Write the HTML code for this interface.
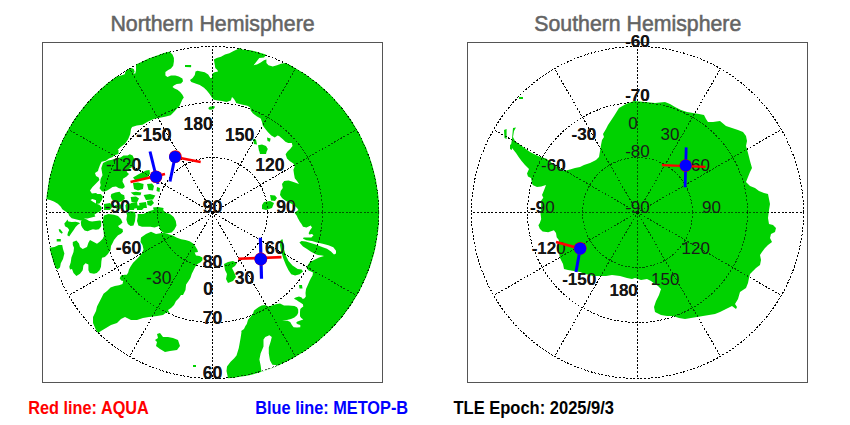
<!DOCTYPE html>
<html><head><meta charset="utf-8"><style>
html,body{margin:0;padding:0;background:#fff;}
body{width:850px;height:425px;overflow:hidden;}
svg{display:block;}
.t{font-family:"Liberation Sans",sans-serif;font-size:22.6px;fill:#646464;stroke:#646464;stroke-width:0.55px;}
.lb{font-family:"Liberation Sans",sans-serif;font-weight:bold;fill:#000;}
.lr{font-family:"Liberation Sans",sans-serif;fill:#1a1a1a;}
.fn{font-size:18.5px;}
.fs{font-size:17px;}
.leg{font-family:"Liberation Sans",sans-serif;font-size:17.8px;font-weight:bold;}
.g{fill:none;stroke:#000;stroke-width:1;stroke-dasharray:2 1.6;shape-rendering:crispEdges;}
.g2{fill:none;stroke:rgba(0,0,0,0.6);stroke-width:1;stroke-dasharray:2 1.6;shape-rendering:crispEdges;}
</style></head><body>
<svg width="850" height="425" viewBox="0 0 850 425">
<defs>
<clipPath id="cn"><circle cx="212.5" cy="212.5" r="166.7"/></clipPath>
<clipPath id="cs"><circle cx="637.5" cy="212.5" r="166.7"/></clipPath>
</defs>
<rect width="850" height="425" fill="#fff"/>
<text class="t" transform="translate(212.5,31) scale(0.946,1)" text-anchor="middle">Northern Hemisphere</text>
<text class="t" transform="translate(637.8,31) scale(0.942,1)" text-anchor="middle">Southern Hemisphere</text>
<rect x="42.5" y="42.5" width="340" height="340" fill="none" stroke="#555" stroke-width="1"/>
<rect x="467.5" y="42.5" width="340" height="340" fill="none" stroke="#555" stroke-width="1"/>
<g class="g">
<circle cx="212.5" cy="212.5" r="55" />
<circle cx="212.5" cy="212.5" r="110" />
<circle cx="212.5" cy="212.5" r="166" />
<line x1="212.5" y1="212.5" x2="212.50" y2="378.50" />
<line x1="212.5" y1="212.5" x2="295.50" y2="356.26" />
<line x1="212.5" y1="212.5" x2="356.26" y2="295.50" />
<line x1="212.5" y1="212.5" x2="378.50" y2="212.50" />
<line x1="212.5" y1="212.5" x2="356.26" y2="129.50" />
<line x1="212.5" y1="212.5" x2="295.50" y2="68.74" />
<line x1="212.5" y1="212.5" x2="212.50" y2="46.50" />
<line x1="212.5" y1="212.5" x2="129.50" y2="68.74" />
<line x1="212.5" y1="212.5" x2="68.74" y2="129.50" />
<line x1="212.5" y1="212.5" x2="46.50" y2="212.50" />
<line x1="212.5" y1="212.5" x2="68.74" y2="295.50" />
<line x1="212.5" y1="212.5" x2="129.50" y2="356.26" />
<circle cx="637.5" cy="212.5" r="55" />
<circle cx="637.5" cy="212.5" r="110" />
<circle cx="637.5" cy="212.5" r="166" />
<line x1="637.5" y1="212.5" x2="637.50" y2="46.50" />
<line x1="637.5" y1="212.5" x2="720.50" y2="68.74" />
<line x1="637.5" y1="212.5" x2="781.26" y2="129.50" />
<line x1="637.5" y1="212.5" x2="803.50" y2="212.50" />
<line x1="637.5" y1="212.5" x2="781.26" y2="295.50" />
<line x1="637.5" y1="212.5" x2="720.50" y2="356.26" />
<line x1="637.5" y1="212.5" x2="637.50" y2="378.50" />
<line x1="637.5" y1="212.5" x2="554.50" y2="356.26" />
<line x1="637.5" y1="212.5" x2="493.74" y2="295.50" />
<line x1="637.5" y1="212.5" x2="471.50" y2="212.50" />
<line x1="637.5" y1="212.5" x2="493.74" y2="129.50" />
<line x1="637.5" y1="212.5" x2="554.50" y2="68.74" />
</g>
<g class="lb fn">
<text transform="translate(171.5,140.8) scale(0.95,1)" text-anchor="end">-150</text>
<text transform="translate(141.2,171.1) scale(0.95,1)" text-anchor="end">-120</text>
<text transform="translate(130.1,212.5) scale(0.95,1)" text-anchor="end">-90</text>
<text transform="translate(141.2,253.9) scale(0.95,1)" text-anchor="end">-60</text>
<text transform="translate(171.5,284.2) scale(0.95,1)" text-anchor="end">-30</text>
<text transform="translate(212.9,295.3) scale(0.95,1)" text-anchor="end">0</text>
<text transform="translate(254.3,284.2) scale(0.95,1)" text-anchor="end">30</text>
<text transform="translate(284.6,253.9) scale(0.95,1)" text-anchor="end">60</text>
<text transform="translate(295.7,212.5) scale(0.95,1)" text-anchor="end">90</text>
<text transform="translate(284.6,171.1) scale(0.95,1)" text-anchor="end">120</text>
<text transform="translate(254.3,140.8) scale(0.95,1)" text-anchor="end">150</text>
<text transform="translate(212.9,129.7) scale(0.95,1)" text-anchor="end">180</text>
<text transform="translate(212.5,212.5) scale(0.95,1)" text-anchor="middle">90</text>
<text transform="translate(212.5,268.2) scale(0.95,1)" text-anchor="middle">80</text>
<text transform="translate(212.5,323.5) scale(0.95,1)" text-anchor="middle">70</text>
<text transform="translate(212.5,378.5) scale(0.95,1)" text-anchor="middle">60</text>
</g>
<g class="lb fs">
<text x="596.2" y="284.6" text-anchor="end">-150</text>
<text x="565.7" y="254.1" text-anchor="end">-120</text>
<text x="554.6" y="212.5" text-anchor="end">-90</text>
<text x="565.7" y="170.9" text-anchor="end">-60</text>
<text x="596.2" y="140.4" text-anchor="end">-30</text>
<text x="637.8" y="129.3" text-anchor="end">0</text>
<text x="679.4" y="140.4" text-anchor="end">30</text>
<text x="709.9" y="170.9" text-anchor="end">60</text>
<text x="721.0" y="212.5" text-anchor="end">90</text>
<text x="709.9" y="254.1" text-anchor="end">120</text>
<text x="679.4" y="284.6" text-anchor="end">150</text>
<text x="637.8" y="295.7" text-anchor="end">180</text>
<text x="637.5" y="212.5" text-anchor="middle">-90</text>
<text x="637.5" y="156.8" text-anchor="middle">-80</text>
<text x="637.5" y="101.0" text-anchor="middle">-70</text>
<text x="637.5" y="46.5" text-anchor="middle">-60</text>
</g>
<g clip-path="url(#cn)"><path fill="#00d200" fill-rule="nonzero" d="M296.0,68.0 L320.0,20.0 L470.0,20.0 L470.0,440.0 L228.0,440.0 L228.0,378.0 L226.5,371.0 L227.0,366.5 L230.6,361.8 L234.0,358.5 L236.5,355.5 L238.8,348.0 L240.6,338.0 L241.5,332.0 L241.2,331.0 L244.0,329.0 L245.4,326.0 L246.8,324.0 L248.0,319.8 L250.4,317.0 L253.0,313.4 L254.0,310.6 L256.7,308.5 L258.8,307.0 L261.6,305.6 L265.0,305.0 L268.7,306.4 L272.0,305.6 L275.8,304.2 L280.0,303.5 L284.0,305.4 L288.5,305.6 L294.4,306.0 L297.0,307.3 L298.2,309.4 L298.2,312.8 L297.0,315.3 L294.4,317.5 L291.0,319.0 L286.8,320.0 L282.1,320.4 L287.6,320.8 L290.2,322.1 L291.9,325.1 L293.6,327.2 L297.0,327.6 L300.3,327.2 L300.3,325.1 L297.8,324.2 L296.1,323.0 L297.0,321.7 L300.3,320.4 L303.3,319.6 L301.2,317.9 L300.0,316.2 L300.0,312.0 L300.3,309.0 L301.6,307.7 L303.3,306.4 L302.9,304.3 L300.3,302.6 L298.6,301.4 L296.5,300.0 L293.9,298.7 L295.6,297.4 L299.0,296.6 L301.6,297.4 L302.8,299.1 L304.5,298.3 L305.8,296.6 L305.5,293.0 L306.0,289.0 L308.0,284.5 L309.5,281.0 L311.0,278.0 L312.5,275.5 L313.0,272.5 L308.3,270.2 L306.3,267.6 L309.6,262.3 L314.0,260.0 L319.0,257.5 L324.0,256.0 L322.0,255.5 L318.0,255.0 L314.8,253.8 L311.0,251.8 L307.0,249.0 L303.0,246.5 L299.4,242.4 L301.5,241.0 L305.8,241.6 L310.7,243.0 L315.6,244.5 L322.7,247.3 L327.0,248.7 L331.0,251.5 L334.0,254.4 L336.0,253.6 L336.0,250.8 L333.3,247.3 L328.4,245.2 L322.7,243.8 L317.0,242.4 L312.0,241.0 L306.5,240.2 L303.0,238.8 L303.6,237.4 L307.0,237.4 L311.4,237.4 L313.5,235.3 L312.0,233.9 L309.3,234.6 L308.6,233.2 L310.0,230.3 L312.0,227.5 L310.7,225.4 L306.5,227.5 L303.0,226.8 L301.5,224.0 L300.0,222.0 L298.0,218.4 L296.6,215.5 L294.5,212.7 L298.4,210.0 L297.0,208.0 L294.0,205.0 L290.0,203.0 L285.6,200.8 L282.0,198.0 L280.0,195.0 L280.7,191.0 L282.8,188.0 L282.0,184.0 L284.2,181.0 L288.5,180.4 L292.7,181.8 L299.0,184.0 L297.0,181.0 L294.8,178.2 L294.0,174.0 L293.4,169.8 L294.8,166.2 L293.4,163.4 L289.9,161.3 L287.0,158.5 L285.6,154.2 L287.5,151.6 L290.4,148.8 L292.5,146.0 L291.8,143.0 L288.2,143.0 L285.4,141.8 L282.6,139.0 L279.0,136.0 L277.6,135.4 L274.8,137.5 L271.3,135.4 L267.8,132.0 L265.0,128.4 L262.8,125.5 L262.0,122.0 L260.7,118.5 L257.0,116.4 L253.0,113.5 L250.8,110.7 L250.0,107.2 L247.3,105.8 L241.6,104.4 L236.0,103.0 L235.8,102.0 L234.0,99.0 L232.0,97.0 L230.8,100.5 L226.6,101.9 L222.0,101.0 L218.0,100.5 L213.9,99.8 L211.8,97.6 L209.6,94.0 L206.8,90.6 L204.0,87.8 L199.8,85.0 L195.5,83.5 L191.3,82.0 L190.0,80.0 L192.7,77.9 L194.8,75.0 L195.5,71.5 L197.6,70.8 L201.0,71.5 L204.7,72.2 L208.2,74.4 L210.4,78.0 L211.8,78.0 L212.5,73.6 L214.6,72.2 L218.0,71.5 L217.4,70.0 L215.3,68.0 L214.6,63.8 L213.9,59.5 L216.7,58.0 L221.0,56.7 L225.0,54.6 L229.4,53.2 L233.6,51.0 L238.0,49.0 L240.0,47.0 L242.4,49.5 L246.0,50.0 L250.0,50.0 L255.8,50.5 L261.4,52.0 L266.4,54.5 L264.0,57.4 L259.3,58.0 L255.8,62.4 L253.6,65.2 L257.0,64.5 L260.7,62.4 L264.0,60.2 L266.4,59.5 L266.4,63.0 L268.5,65.2 L272.7,66.6 L277.0,65.2 L281.0,63.8 L285.4,63.0 L289.6,64.5 L294.0,66.6 Z M170.4,52.4 L172.5,54.5 L173.9,58.0 L173.9,61.5 L173.2,65.8 L171.0,68.6 L168.2,70.0 L165.4,72.1 L165.4,75.6 L167.5,77.0 L171.0,75.6 L175.3,75.6 L178.8,76.4 L182.4,78.5 L183.0,81.3 L181.0,83.4 L176.7,84.1 L173.9,85.5 L172.5,87.0 L174.6,88.4 L177.4,89.8 L180.2,91.9 L182.4,94.7 L183.8,97.5 L182.4,99.6 L181.0,102.5 L179.5,106.0 L177.0,108.5 L174.4,111.5 L170.7,115.3 L165.0,116.7 L158.5,118.1 L153.7,119.0 L148.1,121.4 L142.5,124.7 L136.8,125.6 L132.1,127.0 L131.0,129.0 L130.2,134.2 L128.0,139.5 L125.0,143.8 L120.7,147.0 L118.0,149.6 L115.4,154.3 L112.8,157.0 L109.0,158.6 L105.9,160.7 L101.6,161.7 L100.0,164.9 L98.5,169.1 L98.0,171.0 L95.0,173.0 L96.0,176.0 L98.7,177.4 L99.4,180.0 L96.0,183.5 L92.5,187.0 L90.0,190.6 L91.9,193.5 L96.0,193.0 L99.0,195.3 L100.8,199.4 L98.3,200.9 L95.4,199.9 L92.4,198.9 L90.4,199.9 L93.4,201.9 L96.4,203.8 L99.3,204.8 L101.3,206.8 L101.8,208.8 L100.3,211.2 L96.4,213.2 L94.4,214.7 L95.4,216.5 L91.4,217.5 L87.5,218.4 L84.5,218.4 L81.5,220.6 L79.6,220.3 L75.6,219.2 L71.7,218.2 L69.2,215.7 L68.2,213.2 L65.2,211.2 L62.3,209.3 L60.8,206.8 L57.8,203.8 L53.9,201.4 L50.0,199.9 L46.0,198.9 L10.0,198.0 L10.0,10.0 L110.0,60.0 L117.0,76.4 L121.0,75.6 L124.7,74.2 L125.4,71.4 L128.2,69.3 L131.8,68.0 L134.0,69.3 L134.6,72.0 L133.2,73.5 L135.3,73.5 L136.0,70.0 L136.0,62.0 L140.0,30.0 L160.0,10.0 L170.0,50.0 Z M10.0,247.0 L49.5,247.7 L54.5,247.0 L58.7,244.9 L62.2,244.9 L63.0,249.0 L64.4,253.4 L63.0,259.0 L60.8,263.2 L60.0,267.5 L57.3,269.6 L55.2,267.5 L52.4,261.8 L50.2,254.8 L30.0,300.0 Z M72.8,242.0 L76.4,240.6 L79.0,243.5 L80.0,247.0 L82.7,249.0 L87.0,247.0 L88.4,242.8 L90.0,240.0 L97.0,243.7 L100.0,241.6 L102.7,238.8 L104.0,236.0 L103.4,230.3 L102.7,223.0 L103.4,217.6 L104.0,215.5 L108.4,214.0 L114.0,214.8 L118.0,216.0 L121.0,219.0 L122.5,222.5 L120.4,224.6 L118.0,226.0 L119.6,228.0 L122.5,229.0 L123.0,231.7 L121.0,233.8 L118.0,235.2 L116.0,237.4 L114.0,240.0 L112.6,243.0 L111.0,246.0 L110.5,250.0 L107.7,254.2 L104.9,257.0 L102.0,257.8 L101.4,261.3 L101.0,266.8 L99.6,270.3 L96.8,273.0 L94.0,273.8 L89.8,273.0 L88.4,270.3 L88.4,264.6 L85.5,263.2 L83.4,265.4 L82.7,270.3 L80.0,273.8 L76.4,276.0 L73.5,273.0 L72.0,269.0 L70.0,269.6 L69.3,266.8 L70.7,262.5 L71.4,257.6 L73.5,252.0 L74.0,247.7 L72.8,245.0 Z M80.8,221.8 L82.4,219.5 L84.6,218.8 L86.9,219.5 L89.1,221.0 L92.1,221.4 L95.9,221.0 L99.7,220.6 L101.2,221.0 L101.2,226.3 L98.9,229.3 L95.9,229.7 L92.9,229.3 L90.6,230.0 L87.6,231.2 L84.6,230.4 L82.4,227.8 L81.2,225.5 Z M64.3,223.6 L66.5,221.0 L67.3,219.5 L68.4,221.4 L71.8,222.1 L75.6,221.8 L78.6,222.5 L80.1,223.3 L77.8,224.8 L75.6,227.0 L73.7,230.0 L71.0,233.8 L69.2,236.4 L67.3,235.3 L68.0,232.3 L69.2,230.0 L67.7,227.8 L65.0,226.3 Z M58.6,229.5 L60.0,229.0 L62.8,232.5 L61.8,233.8 L59.5,232.0 Z M56.7,239.0 L60.8,239.0 L60.8,241.4 L56.7,241.4 Z M102.0,166.0 L103.0,163.0 L108.0,160.4 L112.0,159.7 L116.4,158.3 L120.6,157.6 L123.4,155.5 L127.6,155.5 L129.8,154.2 L132.6,155.6 L134.0,158.5 L134.0,166.0 L129.0,169.0 L126.6,171.8 L129.0,174.0 L126.6,176.5 L123.0,178.8 L122.5,181.8 L124.2,184.7 L124.8,187.0 L122.5,188.8 L119.0,188.2 L116.0,186.5 L112.5,187.0 L110.0,188.8 L107.2,190.6 L104.2,191.8 L101.9,191.2 L99.5,188.2 L100.7,185.3 L100.1,182.4 L100.7,178.8 L102.5,175.3 L101.9,171.8 L101.3,168.2 Z M110.0,150.0 L118.5,150.0 L118.5,154.0 L112.0,156.0 Z M133.0,177.6 L139.0,174.0 L146.0,170.6 L149.5,170.0 L150.0,174.0 L147.0,177.6 L141.3,180.0 L135.4,180.6 Z M133.0,183.0 L138.0,182.4 L143.6,184.0 L143.0,189.0 L138.0,190.6 L134.0,189.0 Z M147.0,184.0 L152.0,183.5 L154.0,186.0 L153.0,190.6 L148.5,190.0 Z M130.7,192.5 L136.0,191.8 L141.3,192.5 L140.5,195.3 L134.0,195.3 Z M130.7,197.0 L136.0,196.5 L139.0,198.5 L137.0,202.4 L131.5,202.0 Z M143.6,195.0 L150.0,194.0 L155.4,195.5 L153.0,199.5 L146.0,200.0 Z M147.0,201.0 L152.0,200.0 L154.0,203.0 L151.0,206.0 L147.5,205.0 Z M126.0,204.0 L131.0,203.5 L133.0,207.0 L130.0,210.0 L126.0,210.0 Z M136.6,205.5 L142.0,204.7 L144.8,207.0 L142.0,210.0 L137.0,210.0 Z M153.0,207.5 L158.0,207.0 L163.6,208.0 L163.0,211.0 L154.0,211.0 Z M110.7,196.5 L111.3,194.0 L115.4,192.4 L119.5,191.8 L121.3,194.0 L124.2,195.3 L124.8,198.8 L121.9,201.2 L118.4,202.4 L114.8,201.2 L111.9,199.4 Z M96.0,194.0 L100.7,194.0 L103.0,196.5 L101.9,200.0 L99.5,203.5 L96.0,204.0 Z M125.4,205.0 L130.0,204.7 L134.8,206.0 L134.0,210.0 L126.0,210.0 Z M104.0,204.0 L110.0,203.0 L113.0,206.0 L110.0,210.0 L104.0,210.0 Z M115.0,205.0 L121.0,204.5 L123.0,208.0 L117.0,209.5 Z M157.0,187.0 L160.0,188.0 L159.5,192.0 L156.5,191.0 Z M126.4,212.7 L130.6,211.3 L135.0,212.0 L135.6,215.5 L135.0,221.0 L133.5,225.4 L130.6,226.0 L127.8,224.0 L126.4,219.8 L127.0,215.5 Z M137.7,214.0 L143.4,214.0 L149.0,211.3 L153.0,210.0 L159.0,209.0 L163.0,210.0 L166.0,212.7 L170.0,214.0 L173.7,217.0 L175.8,221.0 L176.5,225.4 L174.4,229.6 L171.6,232.5 L167.4,233.2 L163.0,232.5 L160.3,230.3 L159.0,226.0 L154.6,227.5 L150.4,226.8 L146.0,226.8 L142.0,226.8 L138.4,225.4 L137.0,221.0 L137.7,217.0 Z M131.0,203.0 L137.0,202.0 L138.0,208.0 L132.0,209.0 Z M139.0,203.0 L146.0,202.0 L147.0,208.0 L140.0,208.0 Z M141.0,237.5 L146.0,234.0 L151.0,231.8 L156.0,234.0 L160.3,233.2 L164.2,232.8 L168.5,234.2 L172.7,235.6 L177.0,237.8 L181.2,239.2 L185.4,240.0 L189.6,241.3 L193.2,243.4 L195.3,246.2 L197.4,249.8 L198.0,252.0 L194.6,252.6 L196.0,255.4 L199.5,256.0 L202.4,257.5 L202.4,260.4 L200.2,262.5 L197.4,263.9 L195.3,266.7 L193.2,271.0 L191.8,273.8 L190.4,278.0 L188.2,281.5 L186.1,284.4 L185.5,290.0 L183.0,295.0 L181.0,295.0 L179.0,298.0 L176.0,301.0 L174.0,305.0 L171.0,308.0 L168.0,310.0 L170.0,314.0 L167.0,312.0 L163.0,315.0 L157.0,316.0 L149.0,317.0 L143.0,318.0 L137.0,320.0 L131.0,320.0 L125.0,317.0 L121.0,319.0 L117.0,323.0 L111.0,325.0 L106.0,328.0 L101.0,331.0 L98.0,333.0 L96.0,330.0 L93.0,323.0 L93.0,317.0 L96.0,311.0 L97.0,306.5 L99.2,302.2 L101.4,298.0 L103.5,293.8 L107.0,291.0 L110.5,287.4 L114.8,286.0 L119.0,285.3 L122.5,283.9 L123.2,281.0 L121.1,280.4 L119.7,278.2 L121.1,275.4 L124.6,274.7 L126.8,274.7 L128.2,272.6 L128.9,269.8 L130.3,267.0 L133.1,262.7 L137.4,258.5 L141.5,254.0 L143.5,249.5 L142.5,245.0 L140.5,242.0 Z M157.0,334.0 L160.0,333.0 L163.0,337.0 L168.0,337.0 L173.0,338.0 L178.0,340.0 L180.0,346.0 L177.0,350.0 L170.0,351.0 L165.0,352.0 L160.0,349.0 L156.0,346.0 L157.0,342.0 L155.0,340.0 L158.0,338.0 Z M193.0,365.0 L196.0,365.0 L196.0,367.0 L193.0,367.0 Z M208.3,108.0 L210.0,106.5 L212.0,106.5 L214.0,105.9 L215.0,107.0 L213.5,109.0 L211.0,109.8 L209.0,109.5 Z M185.0,65.0 L191.3,65.5 L191.0,67.3 L185.5,67.0 Z M185.0,65.0 L191.0,65.0 L191.0,67.0 L185.0,67.0 Z M258.0,145.3 L262.0,144.5 L266.0,146.0 L267.8,149.0 L266.0,153.0 L262.0,153.8 L259.0,151.0 Z M267.0,137.5 L270.6,138.5 L270.0,141.8 L267.5,141.0 Z M253.0,139.0 L256.0,139.5 L257.0,144.6 L254.0,144.0 Z M259.0,150.0 L267.0,150.0 L266.0,154.0 L260.0,154.0 Z M270.0,195.0 L275.0,195.5 L277.0,198.0 L275.0,201.0 L271.0,200.5 Z M264.0,202.0 L270.0,201.0 L274.0,203.0 L272.0,208.0 L266.0,210.0 L262.0,209.0 L262.0,205.0 Z M224.0,264.0 L228.0,262.0 L233.0,261.0 L237.0,263.0 L235.0,266.0 L232.0,268.0 L234.0,272.0 L236.0,277.0 L233.0,281.0 L228.0,283.0 L226.0,279.0 L227.0,274.0 L225.0,270.0 Z M280.6,240.0 L282.6,239.3 L283.9,249.0 L285.9,255.7 L288.5,261.0 L292.5,265.6 L297.7,268.9 L301.7,269.6 L303.0,271.5 L299.7,274.2 L295.1,275.5 L291.2,274.2 L288.5,270.2 L285.9,265.0 L283.3,258.4 L281.3,251.8 L280.0,245.2 Z M299.0,285.0 L302.0,285.0 L302.5,288.5 L299.5,288.6 Z"/></g>
<g clip-path="url(#cn)"><path fill="#fff" d="M265.3,337.0 L269.4,335.3 L271.8,337.0 L270.6,341.8 L268.8,347.6 L268.8,353.5 L270.0,360.6 L272.4,364.7 L277.6,365.3 L278.0,374.0 L262.0,376.0 L260.6,365.3 L259.4,359.4 L260.6,353.5 L263.5,346.5 L263.5,339.4 Z"/></g>
<g clip-path="url(#cs)"><path fill="#00d200" fill-rule="nonzero" d="M513.0,128.0 L516.0,127.5 L514.0,131.0 L513.0,137.0 L515.0,141.0 L519.0,144.0 L524.5,148.0 L530.0,152.0 L536.0,155.0 L540.5,157.0 L546.0,158.6 L556.0,166.0 L564.0,171.0 L570.0,169.6 L575.0,168.0 L580.0,167.0 L584.0,165.0 L590.0,163.0 L596.0,160.0 L599.0,157.0 L600.0,151.0 L601.0,145.0 L602.0,140.0 L604.0,137.0 L603.0,134.0 L606.0,129.0 L608.0,125.0 L614.0,116.0 L619.0,108.0 L626.0,104.0 L634.0,101.0 L645.0,102.0 L655.0,103.0 L665.0,102.0 L670.0,104.0 L675.0,107.0 L681.0,110.0 L687.0,112.0 L693.0,113.0 L699.0,114.0 L704.0,115.0 L706.0,119.0 L708.0,122.0 L713.0,122.0 L720.0,121.0 L726.0,126.0 L732.0,128.0 L738.0,130.0 L743.0,132.0 L746.0,136.0 L747.0,141.0 L746.0,146.0 L748.0,153.0 L750.0,161.0 L752.0,168.0 L750.0,172.0 L748.0,177.0 L746.0,182.0 L750.0,186.0 L755.0,188.0 L759.0,191.0 L764.0,193.0 L768.0,194.0 L769.0,199.0 L770.0,204.0 L769.0,210.0 L768.0,218.0 L769.0,224.0 L773.0,225.0 L776.0,228.0 L775.0,232.0 L771.0,234.0 L770.0,238.0 L772.0,242.0 L768.0,245.0 L765.0,248.0 L762.0,252.0 L760.0,255.0 L761.0,260.0 L760.0,265.0 L756.0,268.0 L753.0,271.0 L750.0,274.0 L749.0,278.0 L748.0,283.0 L746.0,288.0 L740.0,292.0 L738.0,299.0 L735.0,304.0 L737.0,307.0 L736.0,309.0 L732.0,306.0 L726.0,309.0 L720.0,312.0 L715.0,314.0 L709.0,315.0 L703.0,316.0 L697.0,317.0 L691.0,318.0 L685.0,319.0 L679.0,318.0 L673.0,316.0 L667.0,316.0 L661.0,315.0 L655.0,312.0 L654.0,307.0 L656.0,301.0 L659.0,295.0 L660.0,292.0 L661.0,289.0 L658.0,286.0 L655.0,284.0 L651.0,281.0 L647.0,279.0 L641.0,280.0 L635.0,278.0 L632.0,279.0 L627.0,278.0 L620.0,276.0 L612.0,275.0 L606.0,276.0 L598.0,276.0 L593.0,276.0 L590.0,275.0 L585.0,274.0 L580.0,272.0 L574.0,271.0 L568.0,270.0 L564.0,269.0 L563.0,264.0 L560.0,258.0 L558.8,252.0 L558.8,240.0 L556.7,237.2 L556.0,233.0 L553.9,230.2 L548.2,232.3 L542.6,231.6 L539.8,228.8 L538.4,225.2 L539.8,223.0 L541.2,219.0 L540.5,213.2 L541.2,206.2 L541.2,200.5 L543.3,197.7 L542.0,195.0 L543.3,192.0 L544.7,188.5 L546.0,185.0 L541.2,186.4 L537.0,187.0 L532.7,185.0 L532.0,183.0 L531.0,178.0 L528.0,176.5 L527.0,173.6 L529.0,169.0 L525.0,165.0 L521.6,161.0 L519.0,157.6 L516.0,153.0 L512.0,148.0 L511.0,145.0 L512.0,139.0 Z M504.0,130.0 L506.6,129.0 L506.6,139.0 L504.5,138.0 Z M510.0,144.5 L512.0,145.0 L512.0,150.0 L510.0,149.0 Z M519.0,97.0 L523.0,97.0 L523.0,99.0 L519.0,99.0 Z"/></g>
<g class="g2">
<circle cx="212.5" cy="212.5" r="55" />
<circle cx="212.5" cy="212.5" r="110" />
<circle cx="212.5" cy="212.5" r="166" />
<line x1="212.5" y1="212.5" x2="212.50" y2="378.50" />
<line x1="212.5" y1="212.5" x2="295.50" y2="356.26" />
<line x1="212.5" y1="212.5" x2="356.26" y2="295.50" />
<line x1="212.5" y1="212.5" x2="378.50" y2="212.50" />
<line x1="212.5" y1="212.5" x2="356.26" y2="129.50" />
<line x1="212.5" y1="212.5" x2="295.50" y2="68.74" />
<line x1="212.5" y1="212.5" x2="212.50" y2="46.50" />
<line x1="212.5" y1="212.5" x2="129.50" y2="68.74" />
<line x1="212.5" y1="212.5" x2="68.74" y2="129.50" />
<line x1="212.5" y1="212.5" x2="46.50" y2="212.50" />
<line x1="212.5" y1="212.5" x2="68.74" y2="295.50" />
<line x1="212.5" y1="212.5" x2="129.50" y2="356.26" />
<circle cx="637.5" cy="212.5" r="55" />
<circle cx="637.5" cy="212.5" r="110" />
<circle cx="637.5" cy="212.5" r="166" />
<line x1="637.5" y1="212.5" x2="637.50" y2="46.50" />
<line x1="637.5" y1="212.5" x2="720.50" y2="68.74" />
<line x1="637.5" y1="212.5" x2="781.26" y2="129.50" />
<line x1="637.5" y1="212.5" x2="803.50" y2="212.50" />
<line x1="637.5" y1="212.5" x2="781.26" y2="295.50" />
<line x1="637.5" y1="212.5" x2="720.50" y2="356.26" />
<line x1="637.5" y1="212.5" x2="637.50" y2="378.50" />
<line x1="637.5" y1="212.5" x2="554.50" y2="356.26" />
<line x1="637.5" y1="212.5" x2="493.74" y2="295.50" />
<line x1="637.5" y1="212.5" x2="471.50" y2="212.50" />
<line x1="637.5" y1="212.5" x2="493.74" y2="129.50" />
<line x1="637.5" y1="212.5" x2="554.50" y2="68.74" />
</g>
<g class="lr fn">
<text transform="translate(171.5,140.8) scale(0.95,1)" text-anchor="end">-150</text>
<text transform="translate(141.2,171.1) scale(0.95,1)" text-anchor="end">-120</text>
<text transform="translate(130.1,212.5) scale(0.95,1)" text-anchor="end">-90</text>
<text transform="translate(141.2,253.9) scale(0.95,1)" text-anchor="end">-60</text>
<text transform="translate(171.5,284.2) scale(0.95,1)" text-anchor="end">-30</text>
<text transform="translate(212.9,295.3) scale(0.95,1)" text-anchor="end">0</text>
<text transform="translate(254.3,284.2) scale(0.95,1)" text-anchor="end">30</text>
<text transform="translate(284.6,253.9) scale(0.95,1)" text-anchor="end">60</text>
<text transform="translate(295.7,212.5) scale(0.95,1)" text-anchor="end">90</text>
<text transform="translate(284.6,171.1) scale(0.95,1)" text-anchor="end">120</text>
<text transform="translate(254.3,140.8) scale(0.95,1)" text-anchor="end">150</text>
<text transform="translate(212.9,129.7) scale(0.95,1)" text-anchor="end">180</text>
<text transform="translate(212.5,212.5) scale(0.95,1)" text-anchor="middle">90</text>
<text transform="translate(212.5,268.2) scale(0.95,1)" text-anchor="middle">80</text>
<text transform="translate(212.5,323.5) scale(0.95,1)" text-anchor="middle">70</text>
<text transform="translate(212.5,378.5) scale(0.95,1)" text-anchor="middle">60</text>
</g>
<g class="lr fs">
<text x="596.2" y="284.6" text-anchor="end">-150</text>
<text x="565.7" y="254.1" text-anchor="end">-120</text>
<text x="554.6" y="212.5" text-anchor="end">-90</text>
<text x="565.7" y="170.9" text-anchor="end">-60</text>
<text x="596.2" y="140.4" text-anchor="end">-30</text>
<text x="637.8" y="129.3" text-anchor="end">0</text>
<text x="679.4" y="140.4" text-anchor="end">30</text>
<text x="709.9" y="170.9" text-anchor="end">60</text>
<text x="721.0" y="212.5" text-anchor="end">90</text>
<text x="709.9" y="254.1" text-anchor="end">120</text>
<text x="679.4" y="284.6" text-anchor="end">150</text>
<text x="637.8" y="295.7" text-anchor="end">180</text>
<text x="637.5" y="212.5" text-anchor="middle">-90</text>
<text x="637.5" y="156.8" text-anchor="middle">-80</text>
<text x="637.5" y="101.0" text-anchor="middle">-70</text>
<text x="637.5" y="46.5" text-anchor="middle">-60</text>
</g>
<g fill="none">
<polyline points="175,157 200.7,162" stroke="#f00" stroke-width="2.5"/>
<polyline points="130.5,182 165,174" stroke="#f00" stroke-width="2.7"/>
<polyline points="238.3,258.8 281.5,257.1" stroke="#f00" stroke-width="2.6"/>
<polyline points="661.9,165.1 705.6,166.8" stroke="#f00" stroke-width="2.3"/>
<polyline points="556,242 580.2,248.6" stroke="#f00" stroke-width="2.7"/>
<polyline points="175,157 170,181.5" stroke="#00f" stroke-width="3"/>
<polyline points="150,151.5 158,184" stroke="#00f" stroke-width="3"/>
<polyline points="260.4,237.8 261.5,278.7" stroke="#00f" stroke-width="3.2"/>
<polyline points="686.2,147.4 685.1,187.2" stroke="#00f" stroke-width="2.8"/>
<polyline points="580.2,248.6 576,272" stroke="#00f" stroke-width="3"/>
</g>
<g fill="#e00">
<circle cx="175.4" cy="156.5" r="6.3"/>
<circle cx="156" cy="176.8" r="6.3"/>
<circle cx="260.8" cy="259" r="6.5"/>
<circle cx="685.7" cy="165.5" r="6.3"/>
<circle cx="580.2" cy="248.3" r="6.4"/>
</g>
<g fill="#00f">
<circle cx="175" cy="157" r="6"/>
<circle cx="156" cy="176.8" r="6"/>
<circle cx="260.8" cy="259.2" r="6.2"/>
<circle cx="685.7" cy="165.5" r="6"/>
<circle cx="580.2" cy="248.6" r="6.1"/>
</g>
<text class="leg" transform="translate(28.3,414) scale(0.915,1)" fill="#f00">Red line: AQUA</text>
<text class="leg" transform="translate(255.3,414) scale(0.917,1)" fill="#00f">Blue line: METOP-B</text>
<text class="leg" transform="translate(453.5,414) scale(0.928,1)" fill="#000">TLE Epoch: 2025/9/3</text>
</svg>
</body></html>
